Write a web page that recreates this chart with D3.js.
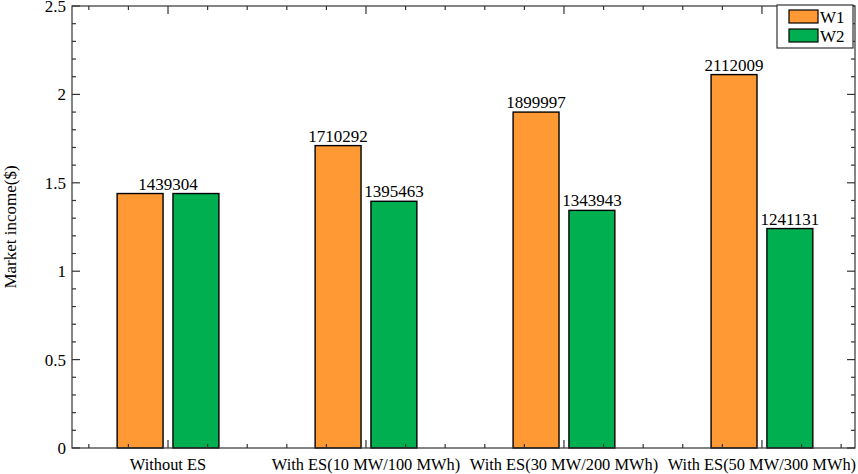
<!DOCTYPE html>
<html>
<head>
<meta charset="utf-8">
<script src="https://cdn.jsdelivr.net/npm/d3@7"></script>
<style>
  body { margin: 0; background: #fff; }
  svg { display: block; font-family: "Liberation Serif", "Times New Roman", serif; }
</style>
</head>
<body>
<svg id="chart" width="858" height="474"></svg>
<script>
// data
var categories = ["Without ES", "With ES(10 MW/100 MWh)", "With ES(30 MW/200 MWh)", "With ES(50 MW/300 MWh)"];
var seriesNames = ["W1", "W2"];
var w1Values = [1439304, 1710292, 1899997, 2112009];
var w2Values = [1439304, 1395463, 1343943, 1241131];
var yTicks = [0, 0.5, 1, 1.5, 2, 2.5];
var yLabel = "Market income($)";

var colors = ["#FF9933", "#00B050"];

var svg = d3.select("#chart");
var plotLeft = 72, plotRight = 855, plotTop = 6, plotBottom = 448;
var fontSize = "17px";

var x = d3.scaleLinear().domain([0.515, 4.47]).range([plotLeft, plotRight]);
var y = d3.scaleLinear().domain([0, 2.5]).range([plotBottom, plotTop]);

var barW = x(1.232) - x(1);       // width of one bar in px
var offset = x(1.141) - x(1);     // bar center offset from group center

var series = [w1Values, w2Values];

// bars
series.forEach(function(vals, s) {
    svg.append("g").selectAll("rect")
        .data(vals)
        .enter().append("rect")
        .attr("x", function(d, i) { return x(i + 1) + (s === 0 ? -offset : offset) - barW / 2; })
        .attr("y", function(d) { return y(d / 1e6); })
        .attr("width", barW)
        .attr("height", function(d) { return y(0) - y(d / 1e6); })
        .attr("fill", colors[s])
        .attr("stroke", "#000")
        .attr("stroke-width", 1.4);
});

// value labels (one label per group when both bars are equal)
var labels = [];
categories.forEach(function(c, i) {
    if (w1Values[i] === w2Values[i]) {
        labels.push({ cx: x(i + 1), v: w1Values[i] });
    } else {
        labels.push({ cx: x(i + 1) - offset, v: w1Values[i] });
        labels.push({ cx: x(i + 1) + offset, v: w2Values[i] });
    }
});
svg.append("g").selectAll("text")
    .data(labels)
    .enter().append("text")
    .attr("x", function(d) { return d.cx; })
    .attr("y", function(d) { return y(d.v / 1e6) - 4; })
    .attr("text-anchor", "middle")
    .attr("font-size", fontSize)
    .attr("fill", "#000")
    .text(function(d) { return d.v; });

// axes box with inward ticks
var yMinor = d3.range(0, 2.5001, 0.1);
var xMinor = d3.range(0.6, 4.4001, 0.2);
var xMajor = categories.map(function(c, i) { return i + 1; });

function isMajor(v, list) {
    return list.some(function(t) { return Math.abs(t - v) < 1e-6; });
}

var axes = svg.append("g").attr("stroke", "#333").attr("stroke-width", 1.2);
axes.append("rect")
    .attr("x", plotLeft).attr("y", plotTop)
    .attr("width", plotRight - plotLeft).attr("height", plotBottom - plotTop)
    .attr("fill", "none");

yMinor.forEach(function(v) {
    var len = isMajor(v, yTicks) ? 8 : 4;
    axes.append("line").attr("x1", plotLeft).attr("x2", plotLeft + len).attr("y1", y(v)).attr("y2", y(v));
    axes.append("line").attr("x1", plotRight).attr("x2", plotRight - len).attr("y1", y(v)).attr("y2", y(v));
});
xMinor.forEach(function(v) {
    var len = isMajor(v, xMajor) ? 8 : 4;
    axes.append("line").attr("x1", x(v)).attr("x2", x(v)).attr("y1", plotBottom).attr("y2", plotBottom - len);
    axes.append("line").attr("x1", x(v)).attr("x2", x(v)).attr("y1", plotTop).attr("y2", plotTop + len);
});

// tick labels
svg.append("g").selectAll("text")
    .data(yTicks)
    .enter().append("text")
    .attr("x", plotLeft - 6)
    .attr("y", function(d) { return y(d); })
    .attr("dy", "0.35em")
    .attr("text-anchor", "end")
    .attr("font-size", fontSize)
    .text(function(d) { return d; });

svg.append("g").selectAll("text")
    .data(categories)
    .enter().append("text")
    .attr("x", function(d, i) { return x(i + 1); })
    .attr("y", plotBottom + 22)
    .attr("text-anchor", "middle")
    .attr("font-size", "16.4px")
    .text(function(d) { return d; });

svg.append("text")
    .attr("transform", "translate(16," + ((plotTop + plotBottom) / 2) + ") rotate(-90)")
    .attr("text-anchor", "middle")
    .attr("font-size", fontSize)
    .text(yLabel);

// legend in the top right corner
var legend = svg.append("g");
legend.append("rect")
    .attr("x", 777).attr("y", 5)
    .attr("width", 76).attr("height", 43)
    .attr("fill", "#fff").attr("stroke", "#333").attr("stroke-width", 1.2);
seriesNames.forEach(function(n, s) {
    legend.append("rect")
        .attr("x", 789).attr("y", 10 + s * 19)
        .attr("width", 29).attr("height", 13)
        .attr("fill", colors[s]).attr("stroke", "#000").attr("stroke-width", 1.2);
    legend.append("text")
        .attr("x", 820).attr("y", 17 + s * 19)
        .attr("dy", "0.35em")
        .attr("font-size", fontSize)
        .text(n);
});
</script>
</body>
</html>
